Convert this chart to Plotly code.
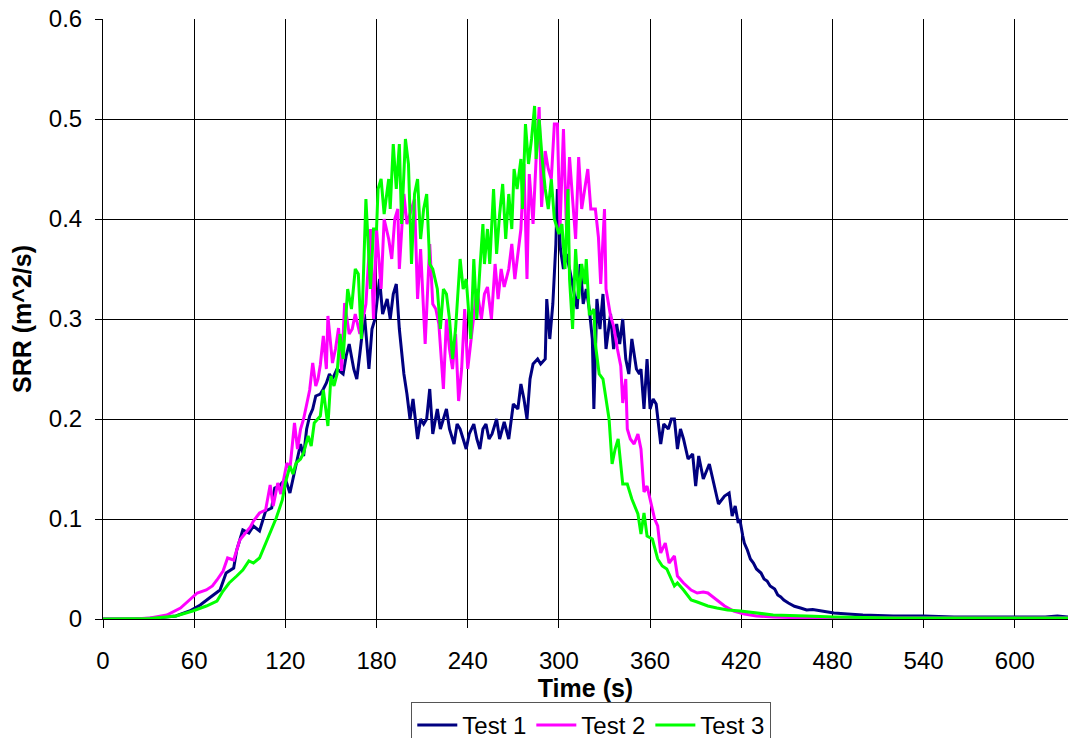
import plotly.graph_objects as go

# ---------------- data ----------------
test1_t = [0, 20, 35, 48, 57, 64, 70, 77, 81, 86, 88, 92, 96, 99, 103, 107, 111, 113, 116, 120,
           123, 127, 130, 132, 134, 136, 138, 140, 143, 145, 147, 149, 151, 154, 158, 160, 162, 165,
           167, 169, 172, 175, 177, 179, 182, 184, 187, 189, 191, 193, 195, 198, 200, 202, 204, 207,
           209, 211, 213, 215, 217, 220, 222, 224, 226, 228, 231, 233, 235, 237, 239, 241, 244, 246,
           248, 250, 252, 254, 256, 259, 261, 264, 267, 270, 273, 275, 277, 279, 281, 283, 286, 288,
           291, 292, 294, 296, 298, 299, 301, 303, 305, 307, 309, 312, 314, 316, 318, 320, 322, 323,
           325, 327, 329, 331, 334, 336, 338, 340, 342, 344, 346, 348, 351, 353, 354, 356, 358, 360,
           362, 364, 367, 369, 372, 374, 376, 378, 380, 382, 385, 388, 390, 392, 395, 399, 402, 405,
           409, 412, 414, 416, 418, 419, 421, 422, 424, 426, 428, 430, 433, 435, 437, 439, 442, 444,
           446, 448, 451, 455, 459, 463, 467, 472, 476, 481, 490, 500, 520, 540, 560, 580, 600, 620,
           628, 635]
test1_v = [0, 0, 0.001, 0.003, 0.008, 0.014, 0.021, 0.029, 0.046, 0.051, 0.069, 0.089, 0.086, 0.093,
           0.088, 0.108, 0.111, 0.131, 0.133, 0.14,
           0.126, 0.156, 0.175, 0.163, 0.19, 0.203, 0.21, 0.223, 0.225, 0.23, 0.236, 0.245, 0.24,
           0.25, 0.245, 0.263, 0.275, 0.25,
           0.24, 0.265, 0.305, 0.25, 0.29, 0.3, 0.34, 0.305, 0.32, 0.3, 0.325, 0.335, 0.29, 0.245,
           0.225, 0.2, 0.22, 0.18,
           0.2, 0.195, 0.2, 0.23, 0.185, 0.21, 0.19, 0.2, 0.21, 0.19, 0.175, 0.195, 0.19, 0.18, 0.17,
           0.185, 0.195, 0.18,
           0.17, 0.19, 0.195, 0.18, 0.185, 0.2, 0.18, 0.197, 0.18, 0.215, 0.21, 0.235, 0.22, 0.2,
           0.24, 0.255, 0.26, 0.255,
           0.26, 0.32, 0.28, 0.315, 0.375, 0.43, 0.37, 0.35, 0.365, 0.35, 0.335, 0.31, 0.355, 0.315,
           0.33, 0.31, 0.28, 0.21,
           0.32, 0.29, 0.325, 0.27, 0.305, 0.27, 0.295, 0.275, 0.3, 0.26, 0.245, 0.28, 0.25, 0.245,
           0.25, 0.21, 0.26, 0.21,
           0.22, 0.215, 0.175, 0.195, 0.19, 0.2, 0.2, 0.17, 0.19, 0.18, 0.16, 0.165, 0.133, 0.163,
           0.14, 0.155, 0.135, 0.115,
           0.123, 0.126, 0.103, 0.113, 0.096, 0.1, 0.083, 0.076, 0.069, 0.06, 0.056, 0.05, 0.046,
           0.04, 0.038, 0.033, 0.03, 0.024,
           0.022, 0.019, 0.016, 0.0127, 0.011, 0.009, 0.0095, 0.0083, 0.007, 0.006, 0.005, 0.004,
           0.003, 0.003, 0.002, 0.002, 0.002, 0.002,
           0.003, 0.002]

test2_t = [0, 20, 31, 42, 51, 57, 62, 68, 72, 75, 79, 82, 86, 90, 94, 97, 99, 103, 107, 110, 112,
           115, 117, 119, 121, 123, 126, 128, 130, 132, 134, 136, 138, 140, 141.5, 143, 145, 147,
           148, 151, 153, 155, 157, 159, 162, 164, 166, 169, 171, 173, 176, 178, 180, 183, 185, 188,
           190, 192, 194, 195, 198, 200, 203, 205, 207, 209, 212, 215, 217, 219, 221, 224, 226, 228,
           230, 232, 234, 236, 238, 240, 243, 246, 249, 251, 253, 255.6, 258, 260, 262, 264, 267,
           269, 271, 273, 275, 277, 279, 280.5, 283, 285, 287, 288.6, 291, 293, 295, 297, 299,
           300.7, 303, 305, 307, 309, 311, 313, 315, 317, 319, 321, 324, 326, 327.5, 330, 331, 334,
           336, 338.5, 340.7, 342, 344, 345, 347, 349.5, 352, 354, 356, 358, 360.5, 363, 365, 367,
           370, 372.5, 376, 378, 382, 387, 391, 395, 398, 402, 405, 409, 415, 422, 430, 441, 463,
           500, 635]
test2_v = [0, 0, 0.001, 0.004, 0.011, 0.019, 0.026, 0.029, 0.033, 0.039, 0.048, 0.061, 0.059, 0.079,
           0.086, 0.092, 0.098, 0.106, 0.109, 0.134, 0.113,
           0.136, 0.125, 0.14, 0.156, 0.15, 0.196, 0.17, 0.19, 0.2, 0.213, 0.229, 0.256, 0.233, 0.24,
           0.254, 0.283, 0.25,
           0.303, 0.256, 0.27, 0.291, 0.248, 0.316, 0.285, 0.29, 0.305, 0.285, 0.3, 0.315, 0.39, 0.3,
           0.39, 0.33, 0.4, 0.38,
           0.36, 0.4, 0.41, 0.35, 0.425, 0.395, 0.41, 0.42, 0.32, 0.37, 0.275, 0.375, 0.315, 0.31,
           0.295, 0.23, 0.3, 0.27,
           0.25, 0.285, 0.218, 0.25, 0.31, 0.25, 0.29, 0.33, 0.3, 0.325, 0.332, 0.3, 0.355, 0.32,
           0.35, 0.332, 0.35,
           0.375, 0.34, 0.365, 0.39, 0.455, 0.34, 0.445, 0.395, 0.46, 0.512, 0.412, 0.468, 0.45,
           0.44, 0.495, 0.495,
           0.39, 0.49, 0.39, 0.462, 0.42, 0.38, 0.462, 0.41, 0.43, 0.45, 0.41, 0.41, 0.382, 0.335,
           0.41, 0.33, 0.303,
           0.293, 0.27, 0.253, 0.216, 0.24, 0.19, 0.18, 0.175, 0.185, 0.17, 0.127, 0.133, 0.116, 0.1,
           0.093, 0.066,
           0.076, 0.056, 0.063, 0.043, 0.036, 0.029, 0.026, 0.027, 0.026, 0.021, 0.018, 0.013, 0.008,
           0.005, 0.003, 0.002, 0.001,
           0.001, 0.001]

test3_t = [0, 20, 31, 48, 59, 68, 75, 79, 83, 88, 92, 96, 99, 103, 108, 111, 114, 116, 118, 120,
           123, 125, 127, 130, 132, 135, 137, 139, 141, 143, 145, 148, 150, 152, 154, 156, 158, 161,
           163.5, 166, 168, 170, 173, 176, 178, 180, 181, 183, 185, 188, 189, 191, 193, 195, 196.5,
           199, 201, 203, 205, 207, 209, 211, 213, 215, 217, 220, 222, 224, 226, 228, 230, 232, 235,
           237, 239, 242, 244, 246, 248, 250, 251, 253, 254.5, 257, 259, 261, 263, 265, 267, 269,
           270.5, 272.5, 275, 276, 278, 280, 282, 284, 285, 287, 289, 291, 293, 295, 297, 300, 302,
           304, 306, 307, 309, 311, 313, 315, 317, 318, 320, 321, 323, 324, 326.5, 329, 331, 333,
           335, 337, 339, 342, 345, 348, 352, 354, 356, 358, 361.5, 365, 368, 371, 376, 378, 382,
           387, 391, 398, 404, 411, 419.5, 430.5, 441, 463, 481, 520, 635]
test3_v = [0, 0, 0.0005, 0.003, 0.008, 0.013, 0.018, 0.028, 0.036, 0.043, 0.049, 0.058, 0.056, 0.061,
           0.079, 0.089, 0.101, 0.11, 0.119, 0.136,
           0.153, 0.145, 0.156, 0.16, 0.166, 0.183, 0.173, 0.196, 0.2, 0.203, 0.229, 0.193, 0.243,
           0.233, 0.245, 0.285, 0.26, 0.33,
           0.31, 0.35, 0.345, 0.28, 0.42, 0.33, 0.39, 0.39, 0.43, 0.44, 0.405, 0.44, 0.41, 0.475,
           0.43, 0.475, 0.395,
           0.48, 0.455, 0.355, 0.425, 0.44, 0.38, 0.41, 0.425, 0.355, 0.35, 0.33, 0.29, 0.33, 0.325,
           0.3, 0.26, 0.29, 0.36,
           0.33, 0.34, 0.28, 0.36, 0.3, 0.35, 0.395, 0.355, 0.39, 0.355, 0.43, 0.365, 0.405, 0.435,
           0.38, 0.425, 0.39,
           0.45, 0.43, 0.46, 0.41, 0.495, 0.455, 0.48, 0.513, 0.46, 0.5, 0.46, 0.43, 0.41, 0.44, 0.4,
           0.385, 0.395,
           0.35, 0.43, 0.34, 0.29, 0.37, 0.32, 0.355, 0.335, 0.36, 0.305, 0.305, 0.31, 0.275, 0.245,
           0.24, 0.22, 0.2,
           0.155, 0.17, 0.18, 0.135, 0.135, 0.12, 0.105, 0.085, 0.106, 0.083, 0.08, 0.06, 0.053,
           0.05, 0.033, 0.036, 0.029,
           0.019, 0.017, 0.013, 0.011, 0.009, 0.008, 0.006, 0.004, 0.003, 0.002, 0.001, 0.001]

series_names = ["Test 1", "Test 2", "Test 3"]
series_colors = ["#000080", "#FF00FF", "#00FF00"]

x_ticks = [0, 60, 120, 180, 240, 300, 360, 420, 480, 540, 600]
y_ticks = [0, 0.1, 0.2, 0.3, 0.4, 0.5, 0.6]
y_tick_text = ["0", "0.1", "0.2", "0.3", "0.4", "0.5", "0.6"]

assert len(test1_t) == len(test1_v)
assert len(test2_t) == len(test2_v)
assert len(test3_t) == len(test3_v)

FONT = "Arial, 'Liberation Sans', sans-serif"

fig = go.Figure()
for (tt, vv), name, col in zip([(test1_t, test1_v), (test2_t, test2_v), (test3_t, test3_v)],
                               series_names, series_colors):
    fig.add_trace(go.Scatter(x=tt, y=vv, mode="lines", name=name,
                             line=dict(color=col, width=3)))

fig.update_layout(
    width=1068, height=738,
    margin=dict(l=103, r=0, t=19, b=119),
    paper_bgcolor="white", plot_bgcolor="white",
    font=dict(family=FONT, size=24, color="black"),
    showlegend=True,
    legend=dict(orientation="h", x=0.506, xanchor="center",
                yref="container", y=1 - 702 / 738, yanchor="top",
                bordercolor="#555555", borderwidth=1, font=dict(size=24),
                itemwidth=40, tracegroupgap=0),
)
fig.update_xaxes(
    range=[0, 635], tickvals=x_ticks, ticks="outside", ticklen=8, tickcolor="black",
    ticklabelstandoff=12,
    showline=True, linecolor="black", linewidth=1,
    showgrid=True, gridcolor="black", gridwidth=1, zeroline=False,
    title=dict(text="<b>Time (s)</b>", standoff=4, font=dict(size=25)),
)
fig.update_yaxes(
    range=[0, 0.6], tickvals=y_ticks, ticktext=y_tick_text, ticks="outside", ticklen=7,
    tickcolor="black", ticklabelstandoff=8,
    showline=True, linecolor="black", linewidth=1,
    showgrid=True, gridcolor="black", gridwidth=1, zeroline=False,
    title=dict(text="<b>SRR (m^2/s)</b>", standoff=10, font=dict(size=25)),
)

fig.write_html("out.html")
